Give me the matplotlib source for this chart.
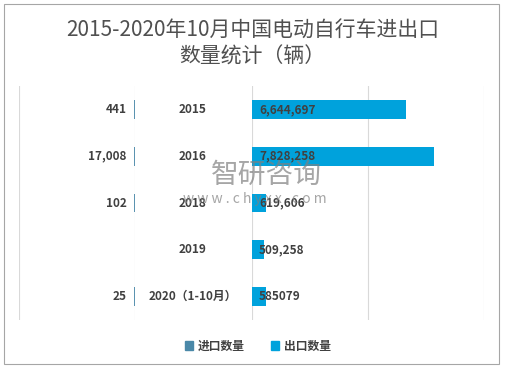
import matplotlib.pyplot as plt
from matplotlib.patches import Rectangle, Patch

plt.rcParams['font.family'] = ['Noto Sans CJK SC', 'DejaVu Sans']

years = ["2015", "2016", "2018", "2019", "2020（1-10月）"]
imports = [441, 17008, 102, 0, 25]
import_labels = ["441", "17,008", "102", "", "25"]
exports = [6644697, 7828258, 619606, 509258, 585079]
export_labels = ["6,644,697", "7,828,258", "619,606", "509,258", "585079"]

c_imp = "#4a88a8"
c_exp = "#00a2dc"
txt = "#404040"
grid = "#d9d9d9"

W, H = 505, 372
fig = plt.figure(figsize=(W / 100, H / 100), dpi=100)

def fx(px):
    return px / W

bot = 1 - 320 / H
hgt = (320 - 86) / H
ax_l = fig.add_axes([fx(19), bot, fx(135 - 19), hgt])
ax_m = fig.add_axes([fx(135), bot, fx(252 - 135), hgt])
ax_r = fig.add_axes([fx(252), bot, fx(484 - 252), hgt])

pos = list(range(len(years)))

# imports, to the left (tiny values -> edge keeps them visible)
ax_l.barh(pos, [v if v else float("nan") for v in imports], height=0.4,
          color=c_imp, edgecolor=c_imp, linewidth=1.3, zorder=3)
ax_l.set_xlim(5000000, 0)
for p, v, lab in zip(pos, imports, import_labels):
    if lab:
        ax_l.annotate(lab, (v, p), xytext=(-6, 0), textcoords="offset points",
                      ha="right", va="center", fontsize=8.5, fontweight="bold", color=txt)

# exports, to the right
ax_r.barh(pos, exports, height=0.4, color=c_exp)
ax_r.set_xlim(0, 10000000)
for p, lab in zip(pos, export_labels):
    ax_r.annotate(lab, (0, p), xytext=(5, 0), textcoords="offset points",
                  ha="left", va="center", fontsize=8.5, fontweight="bold", color=txt)

# year labels in the middle
ax_m.set_xlim(0, 1)
for p, y in zip(pos, years):
    ax_m.text(0.49, p, y, ha="center", va="center", fontsize=8.5, fontweight="bold", color=txt)

for ax in (ax_l, ax_m, ax_r):
    ax.set_ylim(len(years) - 0.5, -0.5)
    for s in ax.spines.values():
        s.set_visible(False)
    ax.set_yticks([])
    ax.tick_params(length=0, labelbottom=False)
ax_l.set_xticks([0, 5000000])
ax_r.set_xticks([0, 5000000, 10000000])
ax_m.set_xticks([])
for ax in (ax_l, ax_r):
    ax.grid(axis="x", color=grid, linewidth=0.8)
    ax.set_axisbelow(True)

fig.text(0.5, 1 - 30 / H, "2015-2020年10月中国电动自行车进出口", ha="center", va="center",
         fontsize=15, color="#505050")
fig.text(0.5, 1 - 57 / H, "数量统计（辆）", ha="center", va="center",
         fontsize=15, color="#505050")

# watermark
fig.text(fx(211), 1 - 175 / H, "智研咨询", ha="left", va="center", fontsize=20,
         color="#808080", alpha=0.7)
fig.text(fx(183), 1 - 199 / H, "w w w . c h y x x . c o m", ha="left", va="center",
         fontsize=10, color="#808080", alpha=0.7)

handles = [Patch(color=c_imp, label="进口数量"), Patch(color=c_exp, label="出口数量")]
leg = fig.legend(handles=handles, loc="center", bbox_to_anchor=(0.51, 1 - 346 / H), ncol=2,
                 frameon=False, fontsize=8.5, handlelength=0.7, handleheight=0.7,
                 handletextpad=0.4, columnspacing=2.2)
for t in leg.get_texts():
    t.set_color(txt)
    t.set_fontweight("bold")

fig.patches.append(Rectangle((fx(4), 1 - 364 / H), fx(495), 360 / H, transform=fig.transFigure,
                             fill=False, edgecolor="#a6a6a6", linewidth=0.8))

fig.savefig("out.png", dpi=100)
